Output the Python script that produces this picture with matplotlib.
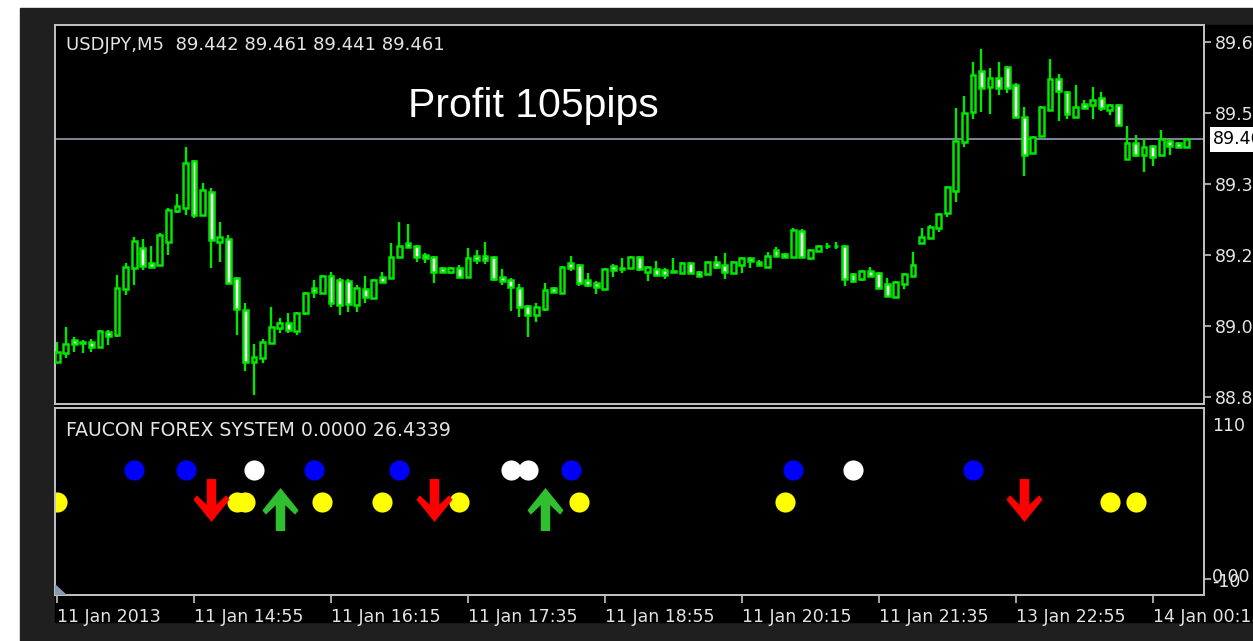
import matplotlib
matplotlib.use("Agg")
import matplotlib.pyplot as plt
from matplotlib.patches import Rectangle, Polygon
from matplotlib.path import Path

# ---- data (USDJPY M5 candles) ----
opens = [88.958, 88.979, 89.008, 89.003, 89.003, 88.992, 89.026, 89.019, 89.123, 89.170,
         89.215, 89.181, 89.177, 89.229, 89.299, 89.305, 89.411, 89.290, 89.342, 89.229,
         89.236, 89.148, 89.076, 88.958, 88.967, 89.001, 89.035, 89.046, 89.028, 89.069,
         89.125, 89.114, 89.152, 89.143, 89.141, 89.087, 89.123, 89.103, 89.150, 89.148,
         89.195, 89.227, 89.220, 89.200, 89.195, 89.170, 89.161, 89.170, 89.150, 89.197,
         89.197, 89.195, 89.150, 89.143, 89.125, 89.085, 89.064, 89.078, 89.125, 89.114,
         89.181, 89.177, 89.143, 89.136, 89.123, 89.175, 89.168, 89.170, 89.195, 89.161,
         89.168, 89.166, 89.163, 89.159, 89.181, 89.161, 89.157, 89.184, 89.177, 89.159,
         89.177, 89.193, 89.184, 89.172, 89.211, 89.202, 89.195, 89.254, 89.193, 89.209,
         89.220, 89.220, 89.220, 89.157, 89.145, 89.163, 89.159, 89.134, 89.105, 89.134,
         89.152, 89.227, 89.238, 89.261, 89.294, 89.344, 89.454, 89.522, 89.614, 89.578,
         89.598, 89.623, 89.583, 89.511, 89.430, 89.468, 89.527, 89.596, 89.567, 89.511,
         89.540, 89.538, 89.553, 89.527, 89.538, 89.416, 89.452, 89.425, 89.445, 89.425,
         89.457, 89.452, 89.442]
highs = [89.003, 89.037, 89.015, 89.008, 89.010, 89.030, 89.030, 89.154, 89.181, 89.240,
         89.236, 89.220, 89.249, 89.305, 89.337, 89.443, 89.413, 89.362, 89.351, 89.274,
         89.245, 89.150, 89.091, 88.999, 89.010, 89.082, 89.057, 89.069, 89.071, 89.116,
         89.143, 89.154, 89.161, 89.148, 89.145, 89.132, 89.152, 89.145, 89.161, 89.227,
         89.274, 89.269, 89.222, 89.204, 89.197, 89.172, 89.172, 89.177, 89.215, 89.211,
         89.229, 89.197, 89.168, 89.148, 89.134, 89.087, 89.091, 89.136, 89.127, 89.174,
         89.197, 89.179, 89.159, 89.141, 89.170, 89.179, 89.193, 89.197, 89.197, 89.174,
         89.186, 89.170, 89.193, 89.184, 89.184, 89.163, 89.186, 89.197, 89.204, 89.186,
         89.195, 89.195, 89.188, 89.206, 89.218, 89.204, 89.261, 89.258, 89.213, 89.222,
         89.227, 89.229, 89.222, 89.159, 89.166, 89.172, 89.161, 89.148, 89.141, 89.159,
         89.206, 89.261, 89.267, 89.294, 89.355, 89.531, 89.558, 89.635, 89.664, 89.621,
         89.635, 89.626, 89.587, 89.533, 89.468, 89.535, 89.641, 89.608, 89.569, 89.583,
         89.549, 89.578, 89.567, 89.540, 89.540, 89.490, 89.470, 89.461, 89.447, 89.481,
         89.461, 89.454, 89.461]
lows = [88.956, 88.967, 88.981, 88.979, 88.981, 88.990, 88.997, 89.015, 89.109, 89.132,
        89.166, 89.170, 89.175, 89.200, 89.294, 89.290, 89.283, 89.288, 89.170, 89.184,
        89.134, 89.019, 88.938, 88.884, 88.956, 88.999, 89.024, 89.024, 89.019, 89.064,
        89.103, 89.112, 89.082, 89.064, 89.071, 89.071, 89.091, 89.101, 89.136, 89.146,
        89.193, 89.215, 89.184, 89.181, 89.136, 89.159, 89.157, 89.148, 89.148, 89.179,
        89.179, 89.141, 89.132, 89.073, 89.060, 89.015, 89.048, 89.073, 89.114, 89.112,
        89.163, 89.130, 89.127, 89.112, 89.121, 89.150, 89.159, 89.168, 89.163, 89.141,
        89.152, 89.145, 89.159, 89.157, 89.157, 89.150, 89.154, 89.168, 89.145, 89.157,
        89.159, 89.170, 89.175, 89.170, 89.195, 89.195, 89.193, 89.193, 89.188, 89.207,
        89.213, 89.213, 89.130, 89.136, 89.141, 89.150, 89.123, 89.105, 89.103, 89.123,
        89.150, 89.225, 89.236, 89.252, 89.285, 89.319, 89.443, 89.506, 89.522, 89.517,
        89.560, 89.565, 89.508, 89.378, 89.428, 89.466, 89.524, 89.502, 89.506, 89.508,
        89.529, 89.506, 89.524, 89.515, 89.490, 89.414, 89.421, 89.387, 89.400, 89.423,
        89.425, 89.441, 89.441]
closes = [88.981, 88.999, 88.999, 89.002, 88.992, 89.028, 89.017, 89.125, 89.172, 89.231,
          89.175, 89.172, 89.245, 89.301, 89.310, 89.407, 89.290, 89.346, 89.233, 89.240,
          89.136, 89.078, 88.958, 88.970, 89.003, 89.037, 89.046, 89.030, 89.069, 89.114,
          89.116, 89.152, 89.091, 89.087, 89.089, 89.125, 89.105, 89.143, 89.139, 89.195,
          89.220, 89.218, 89.195, 89.193, 89.161, 89.161, 89.170, 89.150, 89.193, 89.188,
          89.188, 89.145, 89.141, 89.127, 89.082, 89.064, 89.082, 89.121, 89.116, 89.172,
          89.170, 89.136, 89.132, 89.127, 89.168, 89.166, 89.170, 89.195, 89.168, 89.172,
          89.154, 89.154, 89.161, 89.181, 89.159, 89.152, 89.184, 89.172, 89.161, 89.184,
          89.193, 89.186, 89.177, 89.197, 89.197, 89.195, 89.256, 89.195, 89.211, 89.220,
          89.220, 89.221, 89.145, 89.141, 89.163, 89.152, 89.125, 89.107, 89.139, 89.157,
          89.177, 89.240, 89.263, 89.292, 89.353, 89.457, 89.520, 89.605, 89.576, 89.598,
          89.576, 89.576, 89.511, 89.425, 89.466, 89.533, 89.596, 89.569, 89.517, 89.533,
          89.531, 89.549, 89.531, 89.538, 89.493, 89.452, 89.425, 89.443, 89.421, 89.461,
          89.445, 89.443, 89.461]

price_ticks = [89.680, 89.520, 89.360, 89.200, 89.040, 88.880]
last_price = 89.461
time_tick_bars = [0, 16, 32, 48, 64, 80, 96, 112, 128]
time_labels = ["11 Jan 2013", "11 Jan 14:55", "11 Jan 16:15", "11 Jan 17:35", "11 Jan 18:55",
               "11 Jan 20:15", "11 Jan 21:35", "13 Jan 22:55", "14 Jan 00:15"]

# indicator (FAUCON FOREX SYSTEM) signals: bar index + level
blue_bars = [9, 15, 30, 40, 60, 86, 107]
white_bars = [23, 53, 55, 93]
upper_level = 70
yellow_bars = [0, 21, 22, 31, 38, 47, 61, 85, 123, 126]
lower_level = 50
sell_bars = [18, 44, 113]
sell_level = 51
buy_bars = [26, 57]
buy_level = 45

LIME = '#00e800'
TXT = '#e4e4e4'
BORDER = '#c4c4c4'

W, H = 1253, 641
fig = plt.figure(figsize=(W / 100, H / 100), dpi=100)
fig.patch.set_facecolor('white')
# window frame + black chart area
fig.add_artist(Rectangle((20 / W, 0), 1, 1 - 8 / H, transform=fig.transFigure, color='#1f1f1f', zorder=0))
fig.add_artist(Rectangle((55 / W, 1 - 622 / H), 1, (622 - 25) / H, transform=fig.transFigure, color='black', zorder=0))

ax1 = fig.add_axes([55 / W, 1 - 404 / H, (1204 - 55) / W, (404 - 25) / H])
ax2 = fig.add_axes([55 / W, 1 - 595 / H, (1204 - 55) / W, (595 - 408) / H])
for ax in (ax1, ax2):
    ax.set_facecolor('black')
    ax.set_xlim(-0.25, 134.0)
    for s in ax.spines.values():
        s.set_color(BORDER)
        s.set_linewidth(1.4)

# candles
for i in range(len(opens)):
    o, h, l, c = opens[i], highs[i], lows[i], closes[i]
    ax1.plot([i, i], [l, h], color=LIME, lw=1.7, zorder=2, solid_capstyle='butt')
    bottom = min(o, c)
    height = max(abs(c - o), 0.001)
    face = 'black' if c >= o else 'white'
    ax1.add_patch(Rectangle((i - 0.28, bottom), 0.56, height, facecolor=face,
                            edgecolor=LIME, lw=1.8, zorder=3))

ax1.set_ylim(88.864, 89.718)
ax1.axhline(last_price, color='#8593a3', lw=1.3, zorder=1)
ax1.yaxis.tick_right()
ax1.set_yticks(price_ticks)
ax1.set_yticklabels(['%.3f' % v for v in price_ticks])
ax1.tick_params(axis='y', colors=BORDER, labelcolor=TXT, length=5, width=1.2, pad=3, labelsize=12.5)
ax1.set_xticks([])
ax1.text(1.0 + 9 / 1149, last_price, '%.3f' % last_price, transform=ax1.get_yaxis_transform(),
         ha='left', va='center', fontsize=12.5, color='black',
         bbox=dict(facecolor='white', edgecolor='none', boxstyle='square,pad=0.2'))
ax1.text(11 / 1149, 1 - 20 / 379, 'USDJPY,M5  89.442 89.461 89.441 89.461', transform=ax1.transAxes,
         ha='left', va='center', fontsize=13.0, color=TXT)
ax1.text(353 / 1149, 1 - 81 / 379, 'Profit 105pips', transform=ax1.transAxes,
         ha='left', va='center', fontsize=29.5, color='white', family='Liberation Sans')

# indicator window
ax2.set_ylim(-10, 110)
down = Path([(-0.11, 0.5), (0.11, 0.5), (0.11, -0.1), (0.34, 0.12), (0.42, 0.02), (0, -0.5),
             (-0.42, 0.02), (-0.34, 0.12), (-0.11, -0.1), (-0.11, 0.5)])
up = Path([(x, -y) for x, y in down.vertices])
ax2.plot(blue_bars, [upper_level] * len(blue_bars), 'o', ms=14.5, color='#0000ff', mec='none')
ax2.plot(white_bars, [upper_level] * len(white_bars), 'o', ms=14.5, color='white', mec='none')
ax2.plot(yellow_bars, [lower_level] * len(yellow_bars), 'o', ms=14.5, color='#ffff00', mec='none')
ax2.plot(sell_bars, [sell_level] * len(sell_bars), marker=down, ls='none', ms=31, color='#ff0000', mec='none')
ax2.plot(buy_bars, [buy_level] * len(buy_bars), marker=up, ls='none', ms=31, color='#2fbf2f', mec='none')

ax2.yaxis.tick_right()
ax2.set_yticks([0])
ax2.set_yticklabels([''])
ax2.tick_params(axis='y', colors=BORDER, length=5, width=1.2)
ytr = ax2.get_yaxis_transform()
ax2.text(1.0 + 8 / 1149, 104, '110', transform=ytr, ha='left', va='top', fontsize=12.5, color=TXT)
ax2.text(1.0 + 8 / 1149, 1.5, '0.00', transform=ytr, ha='left', va='center', fontsize=12.5, color=TXT)
ax2.text(1.0 + 8 / 1149, -1.5, '-10', transform=ytr, ha='left', va='center', fontsize=12.5, color=TXT)
ax2.text(11 / 1149, 1 - 23 / 187, 'FAUCON FOREX SYSTEM 0.0000 26.4339', transform=ax2.transAxes,
         ha='left', va='center', fontsize=13.6, color=TXT)
ax2.add_patch(Polygon([(0, 0), (0, 11 / 187), (12 / 1149, 0)], closed=True, transform=ax2.transAxes,
                      facecolor='#8a9ab0', edgecolor='none', zorder=5))

ax2.set_xticks(time_tick_bars)
ax2.set_xticklabels(time_labels)
ax2.tick_params(axis='x', colors=BORDER, labelcolor=TXT, length=6, width=1.2, pad=3, labelsize=12.5)
for lab in ax2.get_xticklabels():
    lab.set_horizontalalignment('left')

fig.savefig('out.png', dpi=100, facecolor=fig.get_facecolor())
